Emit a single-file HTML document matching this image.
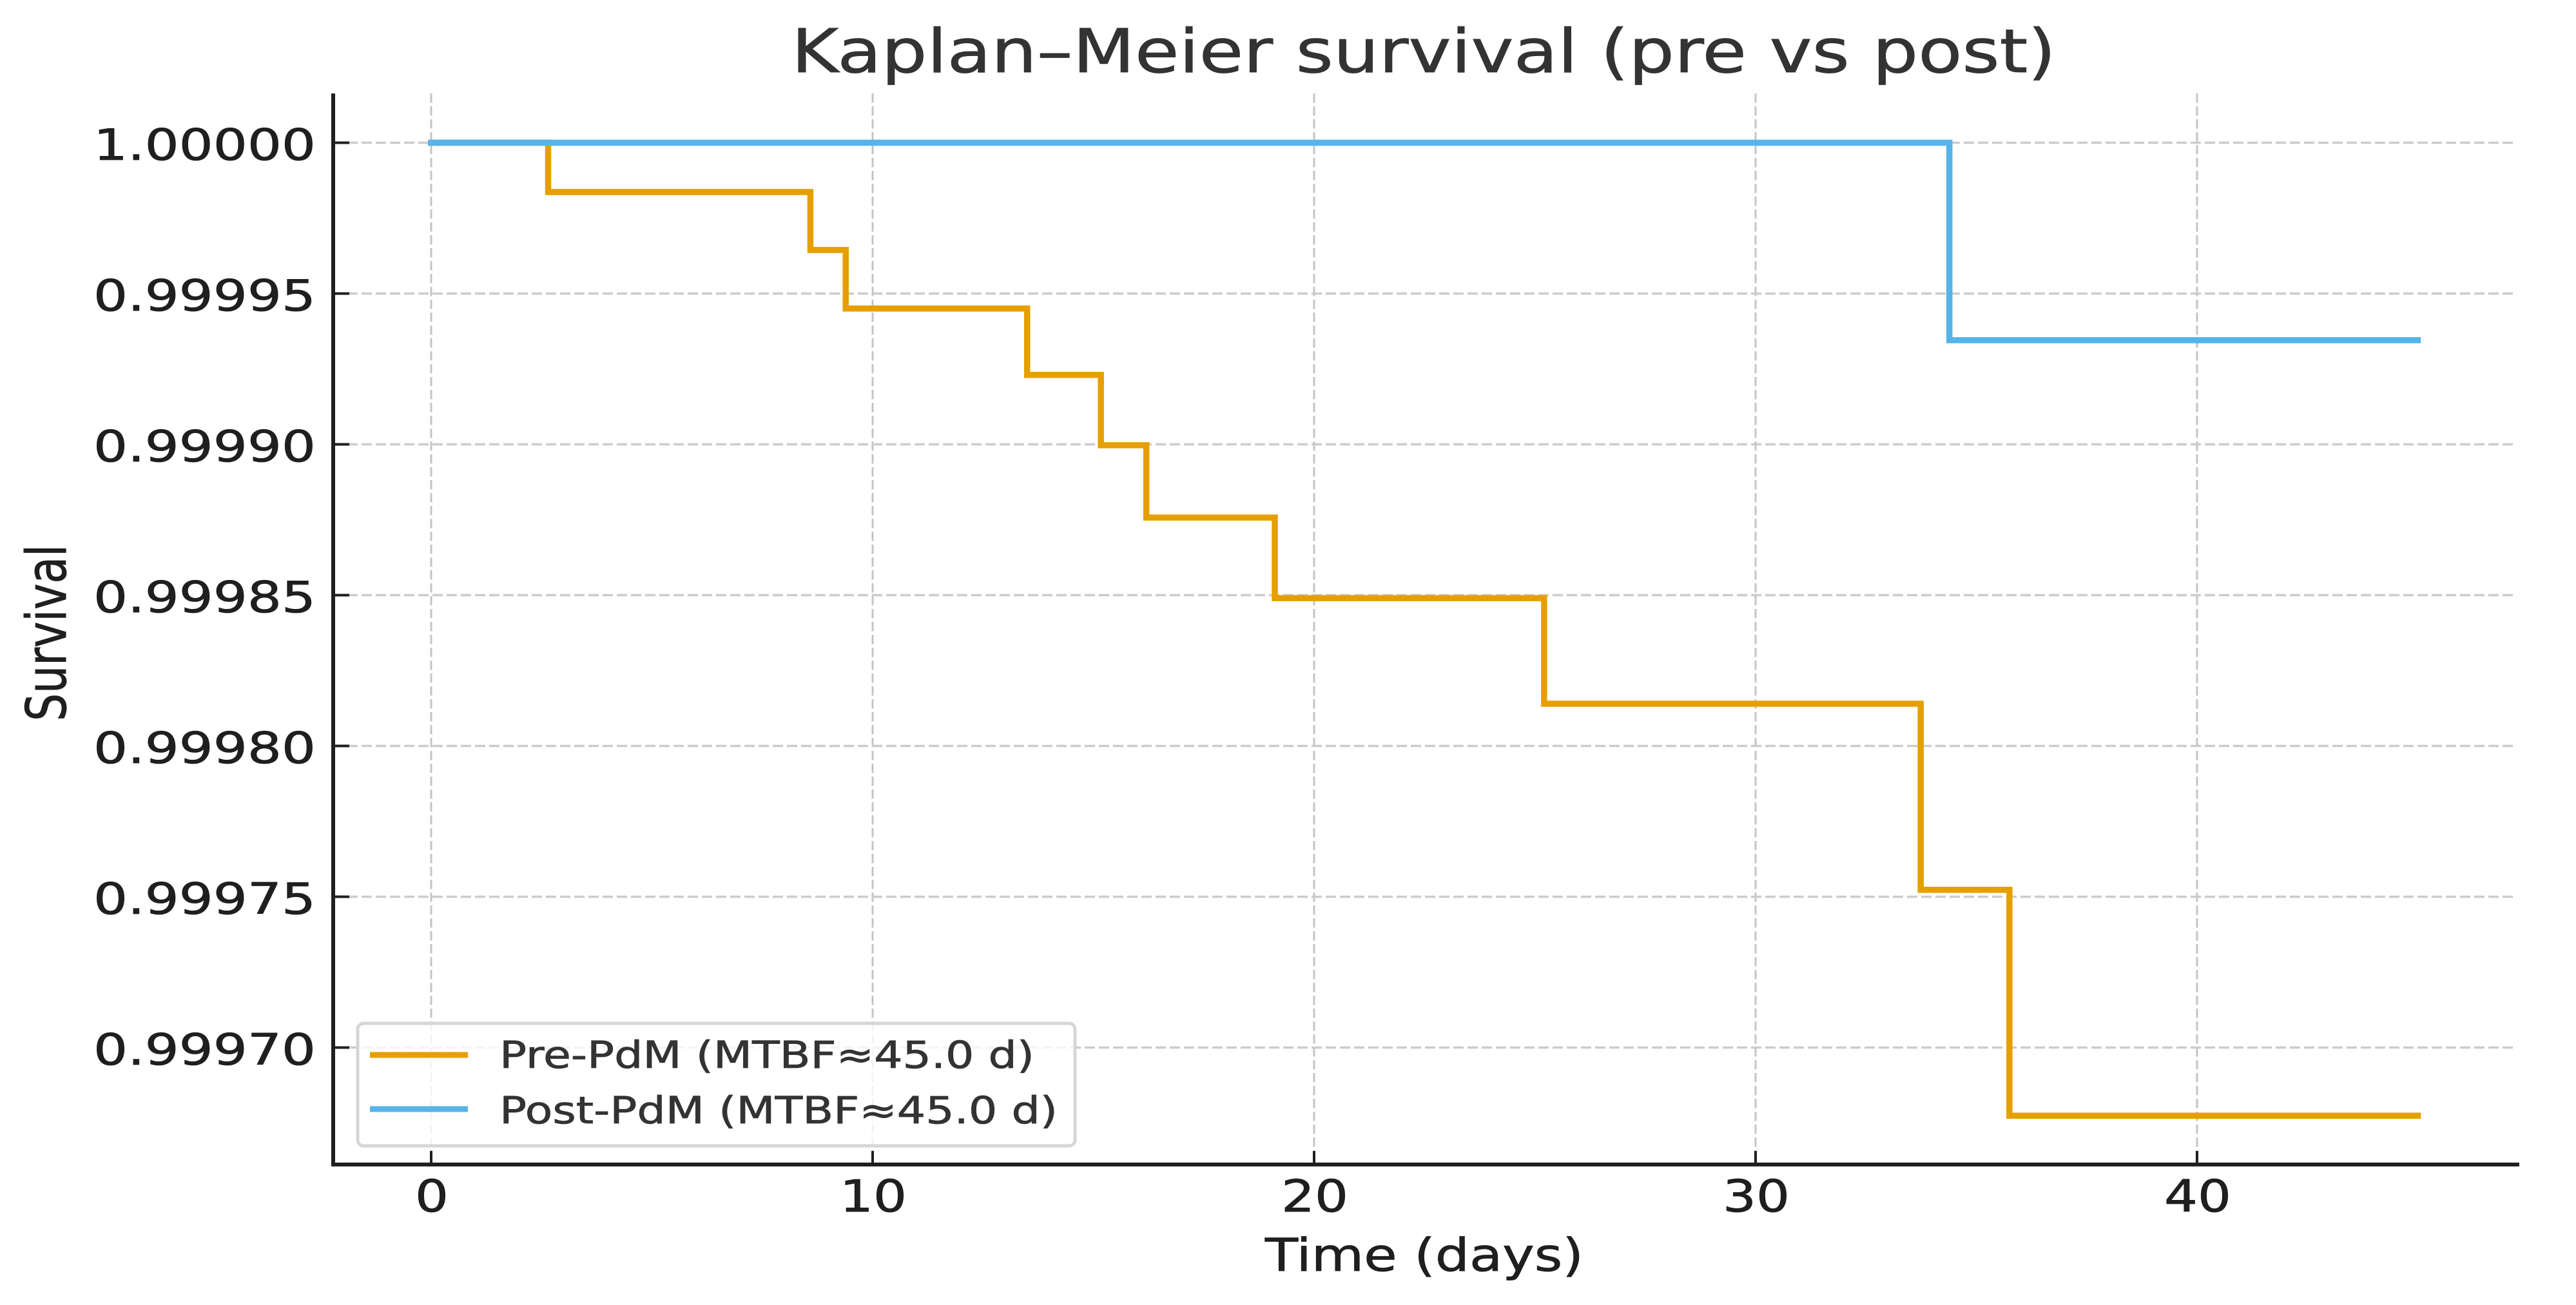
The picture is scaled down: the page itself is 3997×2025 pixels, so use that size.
<!DOCTYPE html>
<html lang="en">
<head>
<meta charset="utf-8">
<title>Kaplan–Meier survival (pre vs post)</title>
<style>
  html, body { margin: 0; padding: 0; background: #ffffff; }
  body { width: 3997px; height: 2025px; overflow: hidden; }
  svg { display: block; }
  text { font-family: "DejaVu Sans", "Liberation Sans", sans-serif; stroke: currentColor; stroke-width: 0.8px; }
</style>
</head>
<body>
<svg id="chart" xmlns="http://www.w3.org/2000/svg" width="3997" height="2025" viewBox="0 0 3997 2025">
  <rect x="0" y="0" width="3997" height="2025" fill="#ffffff"/>
  <g id="grid"></g>
  <g id="series"></g>
  <g id="axes"></g>
  <text x="1228" y="112" font-size="94" fill="#333333" color="#333333" textLength="1962" lengthAdjust="spacingAndGlyphs">Kaplan–Meier survival (pre vs post)</text>
  <text x="1963" y="1972" font-size="70" fill="#1f1f1f" color="#1f1f1f" textLength="494" lengthAdjust="spacingAndGlyphs">Time (days)</text>
  <text transform="translate(102 1119) rotate(-90) scale(1 1.28)" x="0" y="0" font-size="67" fill="#1f1f1f" color="#1f1f1f" textLength="274" lengthAdjust="spacingAndGlyphs">Survival</text>
  <g>
    <rect x="555" y="1588" width="1113" height="190" rx="9" ry="9" fill="#ffffff" fill-opacity="0.8" stroke="#d6d6d6" stroke-width="5"/>
    <line x1="574" y1="1637" x2="726" y2="1637" stroke="#E69F00" stroke-width="9"/>
    <text x="775" y="1657" font-size="58" fill="#333333" color="#333333" textLength="830" lengthAdjust="spacingAndGlyphs">Pre-PdM (MTBF≈45.0 d)</text>
    <line x1="574" y1="1721" x2="726" y2="1721" stroke="#56B4E9" stroke-width="9"/>
    <text x="775" y="1743" font-size="58" fill="#333333" color="#333333" textLength="866" lengthAdjust="spacingAndGlyphs">Post-PdM (MTBF≈45.0 d)</text>
  </g>
</svg>
<script>
const xTickValues = [0, 10, 20, 30, 40];
const xTickLabels = ["0", "10", "20", "30", "40"];
const yTickValues = [1.00000, 0.99995, 0.99990, 0.99985, 0.99980, 0.99975, 0.99970];
const yTickLabels = ["1.00000", "0.99995", "0.99990", "0.99985", "0.99980", "0.99975", "0.99970"];

const preTimes = [0, 2.65, 8.59, 9.39, 13.50, 15.17, 16.20, 19.11, 25.21, 33.74, 35.75, 45];
const preSurvival = [1.0, 0.99998365, 0.99996445, 0.99994504, 0.99992303, 0.9998997, 0.99987573, 0.999849, 0.999814, 0.9997523, 0.9996774, 0.9996774];
const postTimes = [0, 34.39, 45];
const postSurvival = [1.0, 0.99993453, 0.99993453];

const NS = "http://www.w3.org/2000/svg";
function xScale(t) { return 669 + t * 68.5; }
function yScale(v) { return 221.5 + (1 - v) / 0.00005 * 234; }
const plotLeft = 517, plotRight = 3909, plotTop = 145, plotBottom = 1807;

function make(tag, parent, attrs) {
  const el = document.createElementNS(NS, tag);
  for (const k in attrs) el.setAttribute(k, attrs[k]);
  parent.appendChild(el);
  return el;
}
function stepPath(times, values) {
  let d = "M" + xScale(times[0]) + " " + yScale(values[0]);
  for (let i = 1; i < times.length; i++) {
    d += " H" + xScale(times[i]) + " V" + yScale(values[i]);
  }
  return d;
}

const gridG = document.getElementById("grid");
const axesG = document.getElementById("axes");
const seriesG = document.getElementById("series");

xTickValues.forEach(function (t) {
  const g = make("line", gridG, { x1: xScale(t), x2: xScale(t), y1: plotTop, y2: plotBottom, stroke: "#c4c4c4", "stroke-width": 3, "stroke-dasharray": "14.5 5.5" });
  
  
});
yTickValues.forEach(function (v) {
  const g = make("line", gridG, { x1: plotLeft, x2: 3905, y1: yScale(v), y2: yScale(v), stroke: "#cccccc", "stroke-width": 3.5, "stroke-dasharray": "16 6" });
  
  
});

const prePath = make("path", seriesG, { d: stepPath(preTimes, preSurvival), fill: "none", stroke: "#E69F00", "stroke-width": 9.5, "stroke-linecap": "square", "stroke-linejoin": "miter" });


const postPath = make("path", seriesG, { d: stepPath(postTimes, postSurvival), fill: "none", stroke: "#56B4E9", "stroke-width": 9.5, "stroke-linecap": "square", "stroke-linejoin": "miter" });



xTickValues.forEach(function (t, i) {
  const tick = make("line", axesG, { x1: xScale(t), x2: xScale(t), y1: plotBottom - 21, y2: plotBottom, stroke: "#1f1f1f", "stroke-width": 4 });
  
  
  const len = xTickLabels[i].length * 52;
  const label = make("text", axesG, { x: xScale(t) - len / 2 + 1, y: 1880, "font-size": 69, fill: "#1f1f1f", color: "#1f1f1f", textLength: len, lengthAdjust: "spacingAndGlyphs" });
  label.textContent = xTickLabels[i];
  
  
});
yTickValues.forEach(function (v, i) {
  const tick = make("line", axesG, { x1: plotLeft, x2: plotLeft + 25, y1: yScale(v), y2: yScale(v), stroke: "#1f1f1f", "stroke-width": 4 });
  
  
  const label = make("text", axesG, { x: 145, y: yScale(v) + 26.5, "font-size": 67, fill: "#1f1f1f", color: "#1f1f1f", textLength: 345, lengthAdjust: "spacingAndGlyphs" });
  label.textContent = yTickLabels[i];
  
  
});

const leftSpine = make("line", axesG, { x1: plotLeft, x2: plotLeft, y1: plotTop, y2: plotBottom + 3, stroke: "#1f1f1f", "stroke-width": 6 });


const bottomSpine = make("line", axesG, { x1: plotLeft - 3, x2: plotRight, y1: plotBottom, y2: plotBottom, stroke: "#1f1f1f", "stroke-width": 6 });


</script>
</body>
</html>
